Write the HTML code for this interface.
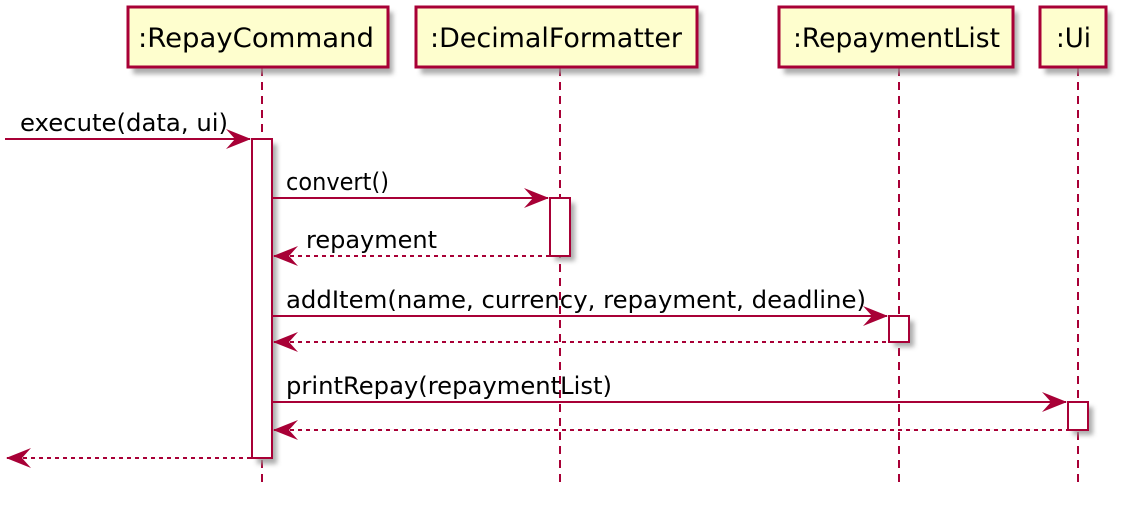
<!DOCTYPE html>
<html><head><meta charset="utf-8"><style>body{margin:0;background:#fff}svg{display:block}</style></head><body>
<svg width="1125" height="516" xmlns="http://www.w3.org/2000/svg" font-family="'DejaVu Sans','Liberation Sans',sans-serif" font-size="24">
<defs><filter id="sh" x="-10%" y="-10%" width="130%" height="150%"><feGaussianBlur stdDeviation="2.5"/></filter></defs>
<g stroke="#A80036" stroke-width="2" stroke-dasharray="8,6">
<line x1="262" y1="68" x2="262" y2="488"/><line x1="560" y1="68" x2="560" y2="488"/>
<line x1="899" y1="68" x2="899" y2="488"/><line x1="1078" y1="68" x2="1078" y2="488"/>
</g>
<g fill="#999" filter="url(#sh)" opacity="0.8">
<rect x="133" y="12" width="260" height="62"/><rect x="421" y="12" width="281" height="62"/>
<rect x="784" y="12" width="234" height="62"/><rect x="1045" y="12" width="66" height="62"/>
<rect x="257" y="144" width="20" height="320"/><rect x="555" y="203" width="20" height="58"/>
<rect x="894" y="321" width="20" height="26"/><rect x="1073" y="407" width="20" height="28"/>
</g>
<g fill="#FEFECE" stroke="#A80036" stroke-width="3">
<rect x="128" y="7" width="260" height="60"/><rect x="416" y="7" width="281" height="60"/>
<rect x="779" y="7" width="234" height="60"/><rect x="1040" y="7" width="66" height="60"/>
</g>
<g fill="#000" font-size="27">
<text x="138" y="47" textLength="236" lengthAdjust="spacingAndGlyphs">:RepayCommand</text>
<text x="430" y="47" textLength="252" lengthAdjust="spacingAndGlyphs">:DecimalFormatter</text>
<text x="793" y="47" textLength="207" lengthAdjust="spacingAndGlyphs">:RepaymentList</text>
<text x="1056" y="47" textLength="35" lengthAdjust="spacingAndGlyphs">:Ui</text>
</g>
<g fill="#fff" stroke="#A80036" stroke-width="2">
<rect x="252" y="139" width="20" height="319"/><rect x="550" y="198" width="20" height="58"/>
<rect x="889" y="316" width="20" height="26"/><rect x="1068" y="402" width="20" height="28"/>
</g>
<g stroke="#A80036" stroke-width="2" fill="none">
<line x1="5" y1="139" x2="250" y2="139"/><line x1="272" y1="198" x2="548" y2="198"/>
<line x1="272" y1="316" x2="887" y2="316"/><line x1="272" y1="402" x2="1066" y2="402"/>
<g stroke-dasharray="4,4"><line x1="274" y1="256" x2="550" y2="256"/><line x1="274" y1="342" x2="889" y2="342"/><line x1="274" y1="430" x2="1068" y2="430"/><line x1="7" y1="458" x2="252" y2="458"/></g>
</g>
<g fill="#A80036">
<path d="M251,139 l-25,-10 l9,10 l-9,10z"/><path d="M549,198 l-25,-10 l9,10 l-9,10z"/>
<path d="M888,316 l-25,-10 l9,10 l-9,10z"/><path d="M1067,402 l-25,-10 l9,10 l-9,10z"/>
<path d="M273,256 l25,-10 l-9,10 l9,10z"/><path d="M273,342 l25,-10 l-9,10 l9,10z"/>
<path d="M273,430 l25,-10 l-9,10 l9,10z"/><path d="M6,458 l25,-10 l-9,10 l9,10z"/>
</g>
<g fill="#000">
<text x="20" y="131" textLength="208" lengthAdjust="spacingAndGlyphs">execute(data, ui)</text>
<text x="286" y="190" textLength="103" lengthAdjust="spacingAndGlyphs">convert()</text>
<text x="306" y="248" textLength="131" lengthAdjust="spacingAndGlyphs">repayment</text>
<text x="286" y="308" textLength="580" lengthAdjust="spacingAndGlyphs">addItem(name, currency, repayment, deadline)</text>
<text x="286" y="394" textLength="326" lengthAdjust="spacingAndGlyphs">printRepay(repaymentList)</text>
</g>
</svg>
</body></html>
